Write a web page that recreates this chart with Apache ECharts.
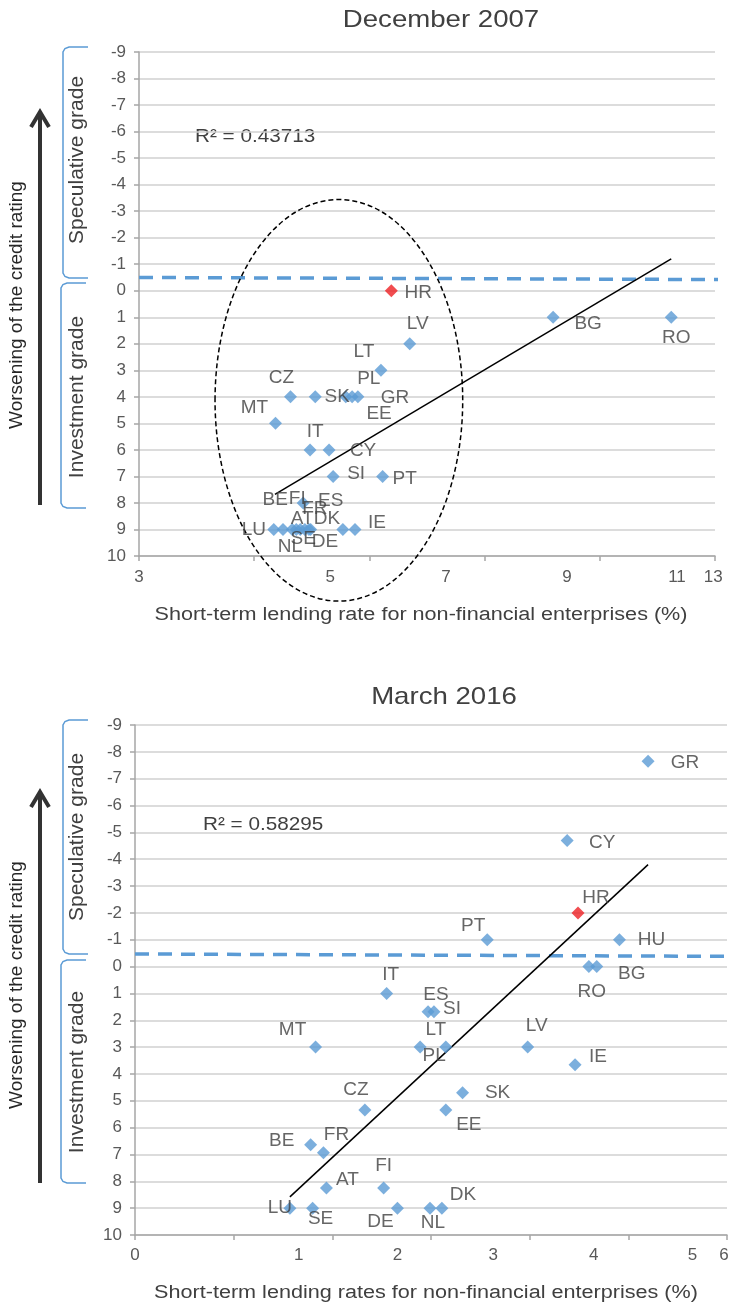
<!DOCTYPE html>
<html><head><meta charset="utf-8">
<script src="https://cdn.jsdelivr.net/npm/echarts@6/dist/echarts.min.js"></script>
<style>html,body{margin:0;padding:0;background:#fff}#c{width:732px;height:1307px}</style>
</head><body><div id="c"></div>
<script>
// ---------- DATA: December 2007 ----------
const countries2007 = ['HR','LV','LT','CZ','SK','PL','EE','GR','MT','IT','CY','SI','PT','BE','LU','NL','SE','AT','FI','FR','DK','ES','DE','IE','BG','RO'];
const rate2007   = [7.38,7.70,7.20,5.63,6.06,6.59,6.70,6.80,5.37,5.97,6.30,6.37,7.23,5.85,5.34,5.50,5.66,5.73,5.80,5.88,5.95,5.98,6.54,6.75,10.19,12.24];
const rating2007 = [0,2,3,4,4,4,4,4,5,6,6,7,7,8,9,9,9,9,9,9,9,9,9,9,1,1];
const trend2007  = [[5.36,7.68],[12.24,-1.2]];
const border2007 = [[3,-0.5],[13.17,-0.42]];
const ellipse2007 = [[6.47,4.13,2.15,7.57]]; // centre x, centre y, radius x, radius y (data units)
const r2_2007 = 'R² = 0.43713';
const xTicks2007 = ['3','5','7','9','11','13'];

// ---------- DATA: March 2016 ----------
const countries2016 = ['GR','CY','HR','PT','HU','RO','BG','IT','ES','SI','MT','PL','LT','LV','IE','SK','CZ','EE','BE','FR','AT','FI','LU','SE','DE','NL','DK'];
const rate2016   = [5.20,4.38,4.49,3.57,4.91,4.60,4.68,2.55,2.97,3.03,1.83,2.89,3.15,3.98,4.46,3.32,2.33,3.15,1.78,1.91,1.94,2.52,1.57,1.80,2.66,2.99,3.11];
const rating2016 = [-7.65,-4.7,-2.0,-1.0,-1.0,0,0,1.0,1.68,1.68,3,3,3,3,3.66,4.7,5.34,5.34,6.64,6.94,8.25,8.25,9,9,9,9,9];
const trend2016  = [[1.57,8.58],[5.20,-3.8]];
const border2016 = [[0,-0.47],[6.05,-0.38]];
const r2_2016 = 'R² = 0.58295';
const xTicks2016 = ['0','1','2','3','4','5','6'];

const highlight = 'HR';

// ---------- LAYOUT / STYLE ----------
const FONT = "'Liberation Sans', Arial, sans-serif";
const BLUE = '#5B9BD5', RED = '#EE2024', TXT = '#404040', AX = '#A6A6A6';
const xLabelAt2007 = [3, 6.32, 8.33, 10.43, 12.34, 12.97];
const xLabelAt2016 = [0, 1.66, 2.66, 3.63, 4.65, 5.65, 5.97];
const off2007 = {HR:[27,2],LV:[8,-20],LT:[-17,-19],CZ:[-9,-19],SK:[22,0],PL:[23,-18],EE:[27,17],GR:[37,1],
  MT:[-21,-16],IT:[5,-18],CY:[34,1],SI:[23,-3],PT:[22,2],BE:[-28,-3],LU:[-20,0],NL:[7,17],SE:[11,9],
  AT:[6,-11],FI:[-3,-31],FR:[10,-21],DK:[18,-11],ES:[20,-29],DE:[-18,12],IE:[22,-7],BG:[35,7],RO:[5,21]};
const off2016 = {GR:[37,2],CY:[35,2],HR:[18,-15],PT:[-14,-14],HU:[32,0],RO:[3,25],BG:[35,7],IT:[4,-19],
  ES:[8,-17],SI:[18,-3],MT:[-23,-17],PL:[14,9],LT:[-10,-17],LV:[9,-21],IE:[23,-8],SK:[35,0],CZ:[-9,-20],
  EE:[23,15],BE:[-29,-4],FR:[13,-18],AT:[21,-8],FI:[0,-22],LU:[-10,0],SE:[8,11],DE:[-17,14],NL:[3,15],DK:[21,-13]};

function pts(names, xs, ys, off) {
  return names.map((n, i) => ({
    name: n, value: [xs[i], ys[i]],
    itemStyle: { color: n === highlight ? RED : BLUE },
    label: { offset: off[n] || [20, 0] }
  }));
}
function nearestLabel(at, labels) {
  return v => { let b = 0; for (let i = 1; i < at.length; i++) if (Math.abs(at[i]-v) < Math.abs(at[b]-v)) b = i; return labels[b]; };
}
function xAxis(gi, min, max, at, labels, margin) {
  return { gridIndex: gi, type: 'value', min, max, interval: gi === 0 ? 2 : 1,
    axisLine: { show: true, onZero: false, lineStyle: { color: AX, width: 1.5 } },
    axisTick: { show: true, length: 5, lineStyle: { color: AX, width: 1.5 } },
    splitLine: { show: false },
    axisLabel: { customValues: at, formatter: nearestLabel(at, labels), color: '#595959', fontSize: 17, fontFamily: FONT, margin } };
}
function yAxis(gi) {
  return { gridIndex: gi, type: 'value', min: -9, max: 10, interval: 1, inverse: true,
    axisLine: { show: true, onZero: false, lineStyle: { color: AX, width: 1.5 } },
    axisTick: { show: true, length: 5, lineStyle: { color: AX, width: 1.5 } },
    splitLine: { show: true, lineStyle: { color: '#D0D0D0', width: 1.5 } },
    axisLabel: { color: '#595959', fontSize: 17, fontFamily: FONT, margin: 13 } };
}
function scatter(gi, data) {
  return { type: 'scatter', xAxisIndex: gi, yAxisIndex: gi, symbol: 'diamond', symbolSize: 13, z: 4,
    data, label: { show: true, formatter: '{b}', position: 'inside', color: TXT, fontSize: 19, fontFamily: FONT } };
}
function line(gi, data, style, z) {
  return { type: 'line', xAxisIndex: gi, yAxisIndex: gi, data, symbol: 'none', clip: false, z, silent: true,
    lineStyle: style };
}

const chart = echarts.init(document.getElementById('c'), null, { renderer: 'canvas' });

function txt(x, y, text, size, opts) {
  return Object.assign({ type: 'text', x, y, style: Object.assign({ text, fill: TXT, font: size + 'px ' + FONT,
    align: 'center', verticalAlign: 'middle' }, (opts && opts.style) || {}) }, (opts && opts.el) || {});
}
function bracket(x, y1, y2) {
  return { type: 'polyline', shape: { points: [[x+25, y1], [x+6, y1], [x+2, y1+1.5], [x, y1+5], [x, y2-5], [x+2, y2-1.5], [x+6, y2], [x+25, y2]] },
    style: { fill: 'none', stroke: BLUE, lineWidth: 1.5 } };
}
function arrow(yTop, yBot) {
  return [
    { type: 'line', shape: { x1: 40, y1: yBot, x2: 40, y2: yTop + 2 }, style: { stroke: '#333', lineWidth: 4 } },
    { type: 'polyline', shape: { points: [[31, yTop + 15], [40, yTop], [49, yTop + 15]] }, style: { stroke: '#333', lineWidth: 4, fill: 'none', lineJoin: 'miter' } }
  ];
}

const option = {
  animation: false,
  grid: [
    { left: 139, top: 52, width: 576, height: 504 },
    { left: 135, top: 725, width: 592, height: 510 }
  ],
  xAxis: [ xAxis(0, 3, 13, xLabelAt2007, xTicks2007, 13), xAxis(1, 0, 6, xLabelAt2016, xTicks2016, 12) ],
  yAxis: [ yAxis(0), yAxis(1) ],
  series: [
    line(0, border2007, { color: BLUE, width: 3.5, type: [14, 9] }, 2),
    line(1, border2016, { color: BLUE, width: 3.5, type: [14, 9] }, 2),
    line(0, trend2007, { color: '#000', width: 1.5 }, 3),
    line(1, trend2016, { color: '#000', width: 1.5 }, 3),
    { type: 'custom', xAxisIndex: 0, yAxisIndex: 0, clip: false, silent: true, z: 3, data: ellipse2007,
      renderItem: (params, api) => {
        const c = api.coord([api.value(0), api.value(1)]);
        const s = api.size([api.value(2), api.value(3)]);
        return { type: 'ellipse', shape: { cx: c[0], cy: c[1], rx: s[0], ry: s[1] },
          style: { fill: 'none', stroke: '#000', lineWidth: 1.5, lineDash: [5, 3] } };
      } },
    scatter(0, pts(countries2007, rate2007, rating2007, off2007)),
    scatter(1, pts(countries2016, rate2016, rating2016, off2016))
  ],
  graphic: [
    txt(441, 20, 'December 2007', 24, { el: { scaleX: 1.15 } }),
    txt(444, 697, 'March 2016', 24, { el: { scaleX: 1.15 } }),
    txt(421, 615, 'Short-term lending rate for non-financial enterprises (%)', 18, { el: { scaleX: 1.2 } }),
    txt(426, 1293, 'Short-term lending rates for non-financial enterprises (%)', 18, { el: { scaleX: 1.2 } }),
    txt(195, 137, r2_2007, 19, { style: { align: 'left' }, el: { scaleX: 1.09 } }),
    txt(203, 825, r2_2016, 19, { style: { align: 'left' }, el: { scaleX: 1.09 } }),
    txt(17, 305, 'Worsening of the credit rating', 19, { el: { rotation: Math.PI / 2 }, style: { fill: '#262626' } }),
    txt(17, 985, 'Worsening of the credit rating', 19, { el: { rotation: Math.PI / 2 }, style: { fill: '#262626' } }),
    txt(77, 160, 'Speculative grade', 21, { el: { rotation: Math.PI / 2 } }),
    txt(77, 397, 'Investment grade', 21, { el: { rotation: Math.PI / 2 } }),
    txt(77, 837, 'Speculative grade', 21, { el: { rotation: Math.PI / 2 } }),
    txt(77, 1072, 'Investment grade', 21, { el: { rotation: Math.PI / 2 } }),
    bracket(63, 47, 278), bracket(61, 283, 508),
    bracket(63, 720, 954), bracket(61, 960, 1183),
    ...arrow(112, 505), ...arrow(792, 1183)
  ]
};
chart.setOption(option);
</script>
</body></html>
